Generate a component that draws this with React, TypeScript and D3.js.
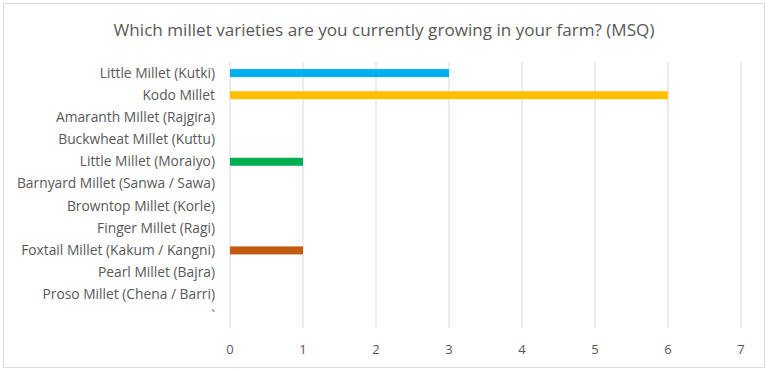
import React from "react";
import * as d3 from "d3";

const categories = [
  "Little Millet (Kutki)",
  "Kodo Millet",
  "Amaranth Millet (Rajgira)",
  "Buckwheat Millet (Kuttu)",
  "Little Millet (Moraiyo)",
  "Barnyard Millet (Sanwa / Sawa)",
  "Browntop Millet (Korle)",
  "Finger Millet (Ragi)",
  "Foxtail Millet (Kakum / Kangni)",
  "Pearl Millet (Bajra)",
  "Proso Millet (Chena / Barri)",
  "`",
];
const values = [3, 6, 0, 0, 1, 0, 0, 0, 1, 0, 0, 0];
const barColors = [
  "#00B0F0", "#FFC000", "#A5A5A5", "#4472C4", "#00B050", "#7030A0",
  "#264478", "#9E480E", "#C55A11", "#636363", "#997300", "#255E91",
];
const xTicks = [0, 1, 2, 3, 4, 5, 6, 7];
const title = "Which millet varieties are you currently growing in your farm? (MSQ)";

const W = 768;
const H = 371;
const FONT = "'Open Sans', 'Liberation Sans', sans-serif";

export default function App() {
  const x = d3.scaleLinear().domain([0, 7]).range([230, 741]);
  const y = d3.scaleBand().domain(categories).range([62, 328]);
  const barH = 8;
  return (
    <svg
      width={W}
      height={H}
      style={{ position: "fixed", left: 0, top: 0, background: "#fff" }}
      fontFamily={FONT}
    >
      <rect x={3.5} y={3.5} width={761} height={364} fill="#fff" stroke="#D9D9D9" strokeWidth={1} />
      <text x={384} y={36} textAnchor="middle" fontSize={17.1} fill="#595959">
        {title}
      </text>
      {xTicks.map((t) => (
        <g key={t}>
          <line x1={x(t)} x2={x(t)} y1={62} y2={328} stroke="#D9D9D9" strokeWidth={1} />
          <text x={x(t)} y={354} textAnchor="middle" fontSize={13} fill="#595959">
            {t}
          </text>
        </g>
      ))}
      {categories.map((c, i) => {
        const yc = (y(c) as number) + y.bandwidth() / 2;
        return (
          <g key={c}>
            <text x={215} y={yc + 4.5} textAnchor="end" fontSize={13.8} fill="#595959">
              {c}
            </text>
            {values[i] > 0 && (
              <rect
                x={x(0)}
                y={yc - barH / 2}
                width={x(values[i]) - x(0)}
                height={barH}
                fill={barColors[i]}
              />
            )}
          </g>
        );
      })}
    </svg>
  );
}
